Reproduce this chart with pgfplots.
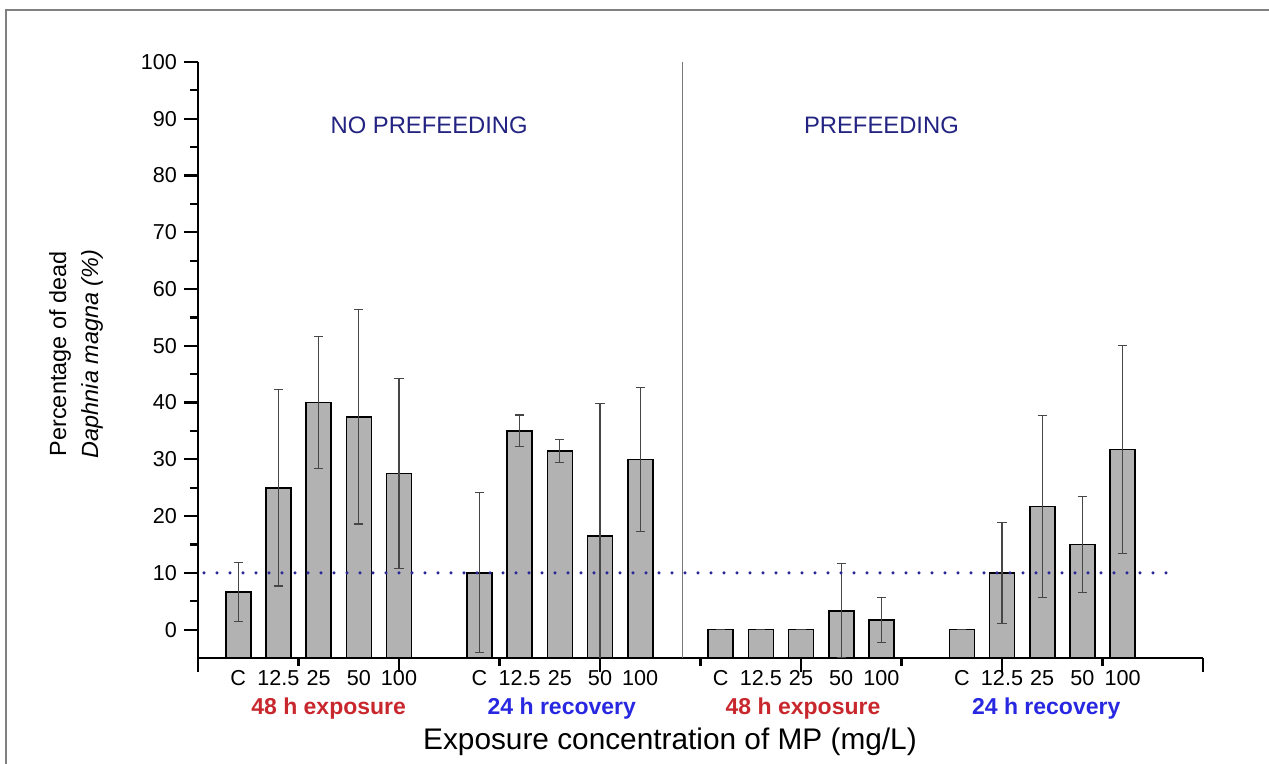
\documentclass[border=0pt]{standalone}
\usepackage{pgfplots}
\pgfplotsset{compat=1.18}
\usepackage{pgfplotstable}
\usepackage{fontspec}
\setmainfont{Liberation Sans}

\definecolor{barfill}{RGB}{178,178,178}
\definecolor{errgray}{RGB}{70,70,70}
\definecolor{navytxt}{RGB}{35,35,130}
\definecolor{dotcol}{RGB}{40,40,150}
\definecolor{redlab}{RGB}{200,40,45}
\definecolor{bluelab}{RGB}{40,40,225}
\definecolor{framegray}{RGB}{128,128,128}
\definecolor{sepgray}{RGB}{120,120,120}

% x = bar position, y = % dead, e = error (sd)
\pgfplotstableread{
x  y     e
1  6.67  5.2
2  25.0  17.3
3  40.0  11.6
4  37.5  18.9
5  27.5  16.7
7  10.0  14.1
8  35.0  2.8
9  31.5  2.0
10 16.5  23.3
11 30.0  12.7
13 0     0
14 0     0
15 0     0
16 3.33  8.3
17 1.67  4.0
19 0     0
20 10.0  8.9
21 21.7  16.0
22 15.0  8.4
23 31.7  18.3
}\deaddata

\begin{document}
\begin{tikzpicture}
\useasboundingbox (0,0) rectangle (634.5pt,382pt);
\draw[framegray, line width=1pt] (3pt,0) -- (3pt,377pt) -- (634.5pt,377pt);
\begin{axis}[
  at={(99pt,53pt)}, anchor=south west,
  scale only axis, width=502.5pt, height=298pt,
  xmin=0, xmax=25, ymin=-5, ymax=100,
  y coord trafo/.code={\pgfmathparse{#1+5}},
  y coord inv trafo/.code={\pgfmathparse{#1-5}},
  axis lines=left, axis line style={-, line width=1.2pt},
  tick align=outside,
  tick style={black, line width=1.1pt},
  major tick length=7pt, minor tick length=4pt,
  ytick={0,10,...,100}, minor y tick num=1,
  xtick={0,5,...,25}, xticklabels={},
  minor xtick={2.5,7.5,...,22.5},
  extra x ticks={1,2,3,4,5,7,8,9,10,11,13,14,15,16,17,19,20,21,22,23},
  extra x tick labels={C,12.5,25,50,100,C,12.5,25,50,100,C,12.5,25,50,100,C,12.5,25,50,100},
  extra x tick style={major tick length=0pt, xticklabel style={anchor=base, yshift=-14pt}},
  ticklabel style={font=\fontsize{10.8}{13}\selectfont},
  /pgf/number format/assume math mode=true,
]
\addplot[ybar, bar width=12.5pt, fill=barfill, draw=black, line width=0.8pt,
  error bars/.cd, y dir=both, y explicit,
  error bar style={errgray, line width=0.6pt},
  error mark options={rotate=90, errgray, mark size=2.3pt, line width=0.6pt}]
  table[x=x, y=y, y error=e] {\deaddata};
\addplot[dotcol, line width=1.7pt, line cap=round, dash pattern=on 0pt off 6.5pt]
  coordinates {(0.15,10) (24.2,10)};
\addplot[sepgray, line width=0.7pt] coordinates {(12.05,-5) (12.05,100)};
\node[text=navytxt, font=\fontsize{11.9}{14}\selectfont] at (axis cs:5.75,88.8) {NO PREFEEDING};
\node[text=navytxt, font=\fontsize{11.9}{14}\selectfont] at (axis cs:17.0,88.8) {PREFEEDING};
\coordinate (g1) at (axis cs:3.25,-5);
\coordinate (g2) at (axis cs:9.05,-5);
\coordinate (g3) at (axis cs:15.05,-5);
\coordinate (g4) at (axis cs:21.1,-5);
\coordinate (xl) at (axis cs:11.74,-5);
\end{axis}
\node[anchor=base, text=redlab, font=\bfseries\fontsize{11.5}{13}\selectfont] at ([yshift=-28.5pt]g1) {48 h exposure};
\node[anchor=base, text=bluelab, font=\bfseries\fontsize{11.5}{13}\selectfont] at ([yshift=-28.5pt]g2) {24 h recovery};
\node[anchor=base, text=redlab, font=\bfseries\fontsize{11.5}{13}\selectfont] at ([yshift=-28.5pt]g3) {48 h exposure};
\node[anchor=base, text=bluelab, font=\bfseries\fontsize{11.5}{13}\selectfont] at ([yshift=-28.5pt]g4) {24 h recovery};
\node[anchor=base, font=\fontsize{14.9}{17}\selectfont] at ([yshift=-46pt]xl) {Exposure concentration of MP (mg/L)};
\node[rotate=90, align=center, font=\fontsize{11.7}{16}\selectfont] at (38pt,205pt)
  {Percentage of dead\\{\itshape Daphnia magna (\%)}};
\end{tikzpicture}
\end{document}
